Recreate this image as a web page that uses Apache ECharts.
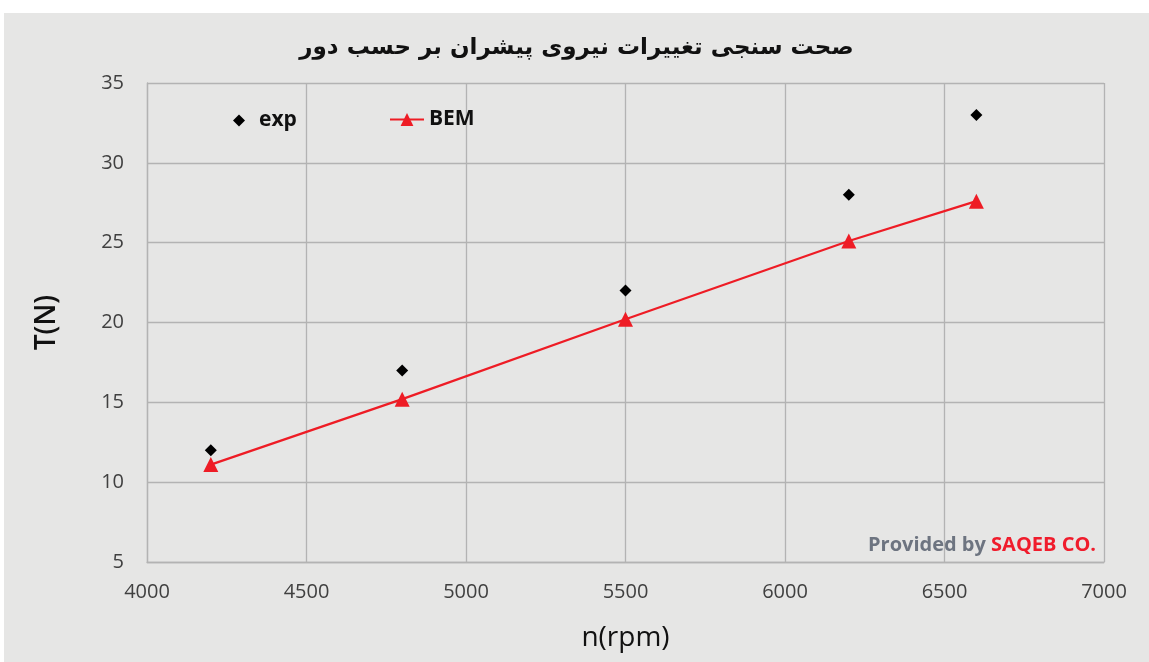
<!DOCTYPE html>
<html>
<head>
<meta charset="utf-8">
<script src="https://cdn.jsdelivr.net/npm/echarts@6/dist/echarts.min.js"></script>
<style>
  html, body { margin: 0; padding: 0; background: #ffffff; }
  #chart { position: absolute; left: 4px; top: 13px; width: 1145px; height: 649px; background: #e6e6e5; }
</style>
</head>
<body>
<div id="chart"></div>
<script>
// Rotational speed (rpm)
const speeds = [4200, 4800, 5500, 6200, 6600];
// Measured thrust (N)
const expThrust = [12, 17, 22, 28, 33];
// Blade element momentum prediction (N)
const bemThrust = [11.1, 15.2, 20.2, 25.1, 27.6];

const titleText = 'صحت سنجی تغییرات نیروی پیشران بر حسب دور';

const chart = echarts.init(document.getElementById('chart'), null, { renderer: 'canvas' });

const toPairs = (xs, ys) => xs.map((x, i) => [x, ys[i]]);

const axisFont = { fontFamily: 'Open Sans', fontSize: 20, color: '#404040' };
const gridLine = { lineStyle: { color: '#b3b3b3', width: 1.3 } };

chart.setOption({
  backgroundColor: '#e6e6e5',
  animation: false,
  title: {
    text: titleText,
    left: 'center',
    top: 19,
    textStyle: { fontFamily: 'DejaVu Sans', fontWeight: 'bold', fontSize: 23, color: '#111' }
  },
  grid: { left: 143, right: 45, top: 70, bottom: 100 },
  legend: [
    {
      data: ['exp'],
      left: 224, top: 92,
      icon: 'diamond',
      itemWidth: 12, itemHeight: 12,
      itemStyle: { color: '#000000' },
      textStyle: { fontFamily: 'Open Sans', fontWeight: 'bold', fontSize: 21, color: '#111', padding: [0, 0, 0, 9] }
    },
    {
      data: ['BEM'],
      left: 380, top: 91,
      itemWidth: 34, itemHeight: 16,
      textStyle: { fontFamily: 'Open Sans', fontWeight: 'bold', fontSize: 21, color: '#111' }
    }
  ],
  xAxis: {
    type: 'value',
    min: 4000, max: 7000, interval: 500,
    name: 'n(rpm)',
    nameLocation: 'middle',
    nameGap: 62,
    nameTextStyle: { fontFamily: 'Open Sans', fontSize: 28, color: '#111' },
    axisLine: { show: true, lineStyle: { color: '#b3b3b3', width: 1.3 } },
    axisTick: { show: false },
    axisLabel: Object.assign({ margin: 20, formatter: v => String(v) }, axisFont),
    splitLine: Object.assign({ show: true }, gridLine)
  },
  yAxis: {
    type: 'value',
    min: 5, max: 35, interval: 5,
    name: 'T(N)',
    nameLocation: 'middle',
    nameGap: 86,
    nameTextStyle: { fontFamily: 'Open Sans', fontWeight: 600, fontSize: 28, color: '#111' },
    axisLine: { show: true, lineStyle: { color: '#b3b3b3', width: 1.3 } },
    axisTick: { show: false },
    axisLabel: Object.assign({ margin: 23 }, axisFont),
    splitLine: Object.assign({ show: true }, gridLine)
  },
  series: [
    {
      name: 'exp',
      type: 'scatter',
      data: toPairs(speeds, expThrust),
      symbol: 'diamond',
      symbolSize: 12,
      itemStyle: { color: '#000000', opacity: 1 },
      z: 3
    },
    {
      name: 'BEM',
      type: 'line',
      data: toPairs(speeds, bemThrust),
      symbol: 'triangle',
      symbolSize: 15,
      showAllSymbol: true,
      lineStyle: { color: '#ee1c25', width: 2.2 },
      itemStyle: { color: '#ee1c25', opacity: 1 },
      z: 2
    }
  ],
  graphic: [
    {
      type: 'text',
      right: 53,
      top: 522,
      style: {
        rich: {
          g: { fontFamily: 'Open Sans', fontWeight: 'bold', fontSize: 20, fill: '#6d7480' },
          r: { fontFamily: 'Open Sans', fontWeight: 'bold', fontSize: 20, fill: '#f01c2c' }
        },
        text: '{g|Provided by }{r|SAQEB CO.}'
      }
    }
  ]
});
</script>
</body>
</html>
